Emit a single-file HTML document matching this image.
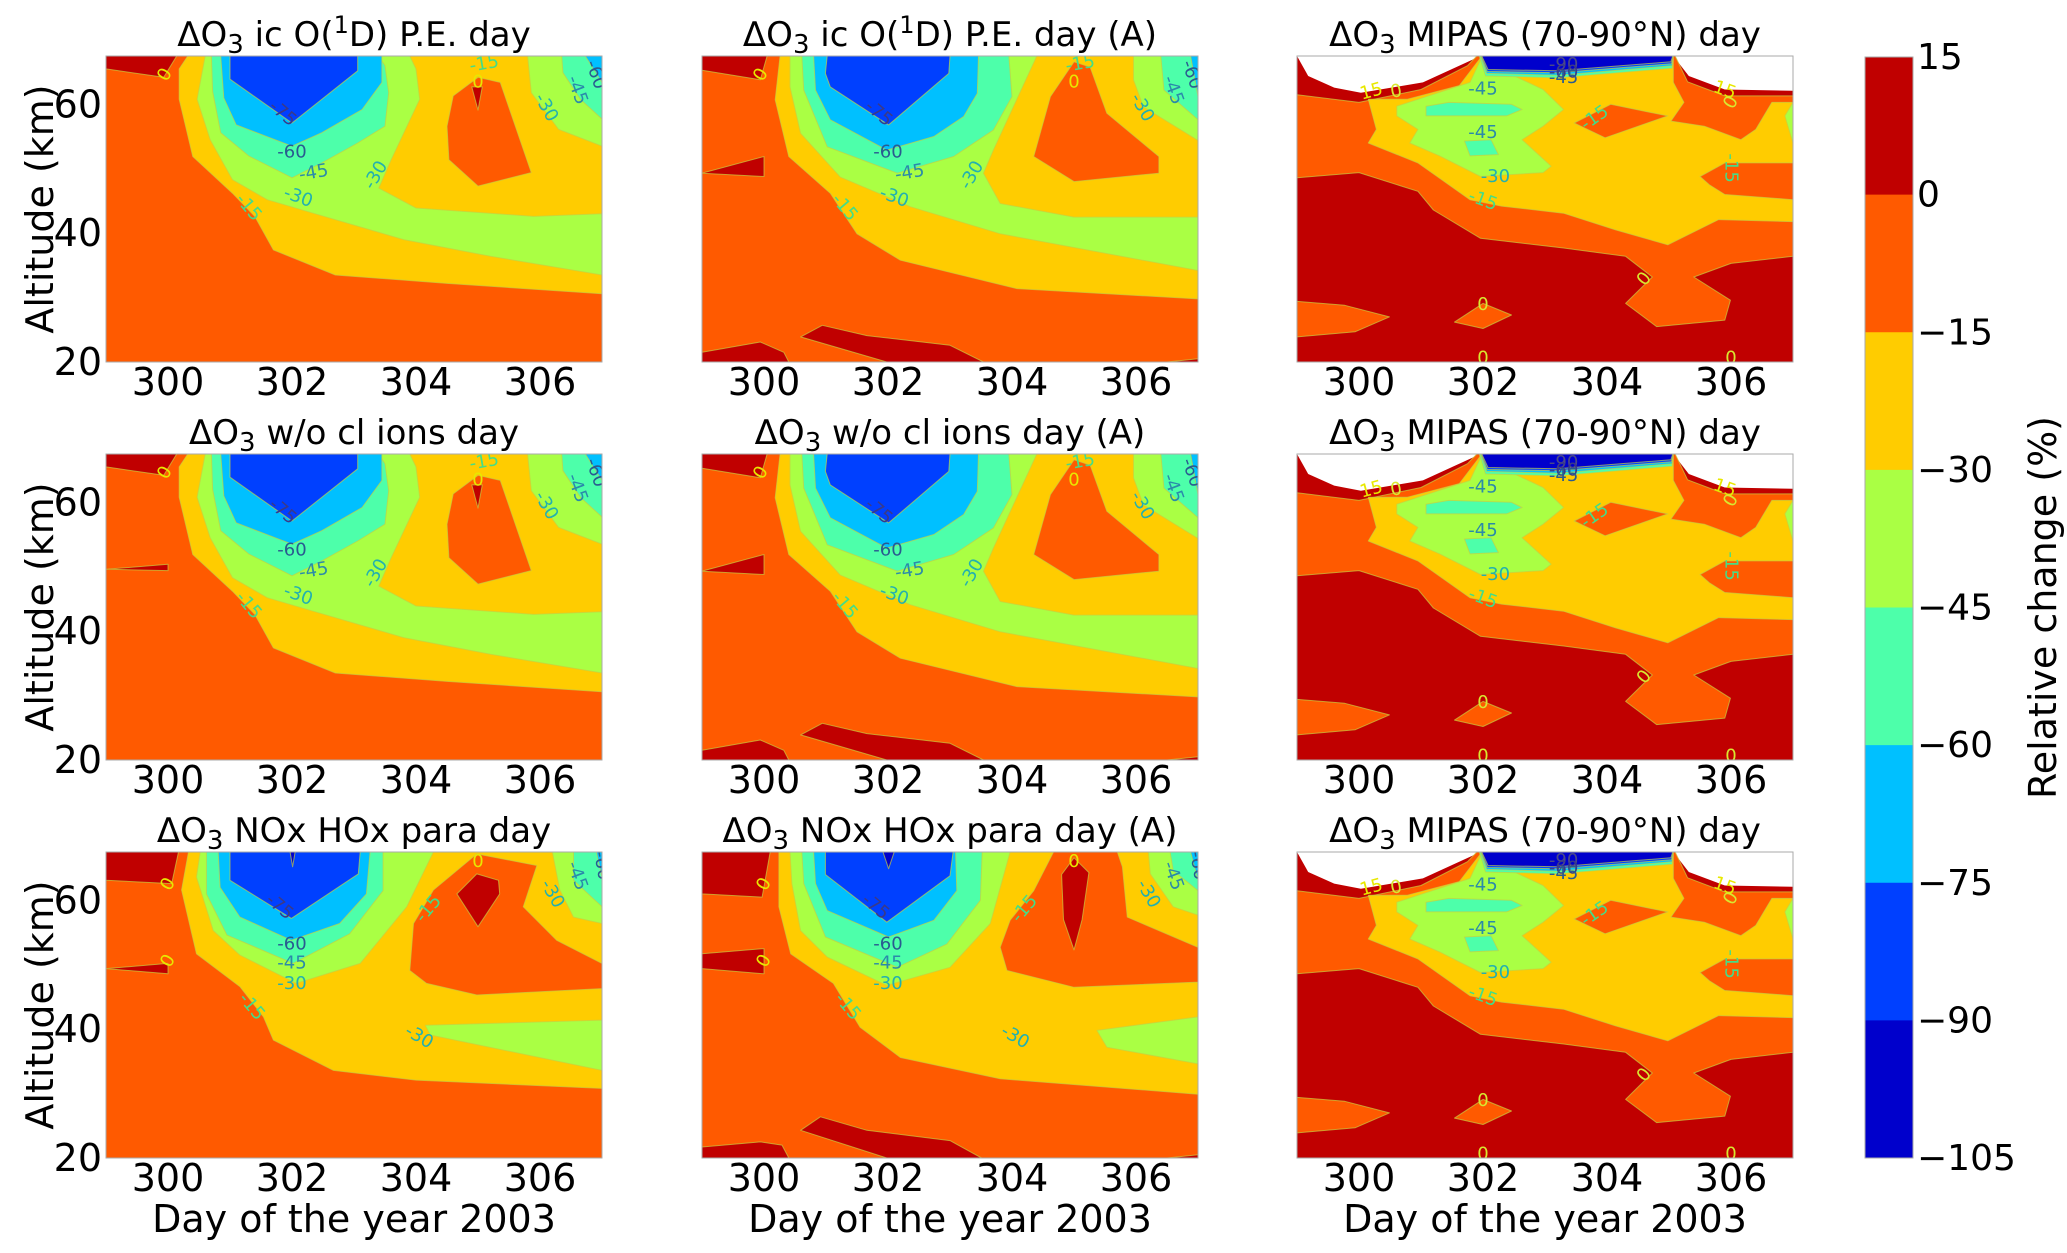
<!DOCTYPE html>
<html><head><meta charset="utf-8">
<style>
html,body{margin:0;padding:0;background:#fff;}
svg{display:block;font-family:"DejaVu Sans","Liberation Sans",sans-serif;}
</style></head>
<body>
<svg id="fig" xmlns="http://www.w3.org/2000/svg" width="2067" height="1253" viewBox="0 0 2067 1253"></svg>
<script>
// ---------- shared scales / ticks ----------
const xDomain = [299, 307];
const yDomain = [20, 67.5];
const xTicks = [300, 302, 304, 306];
const yTicks = [20, 40, 60];
const cbLevels = [15, 0, -15, -30, -45, -60, -75, -90, -105];
const bandColors = ['#c00000','#ff5a00','#ffcc00','#aaff44','#4dffaa','#00c0ff','#0040ff','#0000cc'];
const labelColors = ['#e8e800','#d8e830','#44dd88','#22b0b0','#2a8aaa','#2a5a90','#3a3a88','#4a4a88'];

// ---------- model "ic O(1D) P.E." (row1/row2 col1) ----------
const m1_redTop = [[299,67.5],[300.14,67.5],[299.93,64.2],[299,65.5]];
const m1_yellow = [[300.32,67.5],[300.18,65.5],[300.18,60.8],[300.4,51.9],[301.04,46.2],[301.4,42.6],[301.7,37.4],[302.7,33.5],[304.5,32.2],[307,30.6],[307,67.5]];
const m1_green = [[300.6,67.5],[300.47,60.8],[300.68,54.5],[301.04,48.3],[301.6,45.2],[302.34,43.1],[303.8,39],[305.2,36.4],[307,33.5],[307,43],[305.9,42.6],[304,43.9],[303.4,47],[303.6,51.4],[304.06,60.8],[304,65.5],[303.9,67.5]];
const m1_greenTR = [[305.8,67.5],[305.86,61.8],[306.3,56.1],[307,53.5],[307,67.5]];
const m1_aqua = [[300.7,67.5],[300.72,62],[300.85,55.6],[301.3,52],[302,48.6],[302.48,50.9],[303.06,54],[303.5,56.6],[303.56,61.8],[303.5,66],[303.4,67.5]];
const m1_aquaTR = [[306.35,67.5],[306.37,64.9],[306.65,60.8],[307,57.7],[307,67.5]];
const m1_blue = [[300.85,67.5],[300.9,61],[301.1,56.8],[302,53.5],[302.48,55.6],[303.13,59.2],[303.45,63.4],[303.45,67.5]];
const m1_blueTR = [[306.73,67.5],[307,63.4],[307,67.5]];
const m1_dblue = [[301,67.5],[301,63.9],[302,57.1],[303.06,65.2],[303.06,67.5]];
const m1_blob = [[304.6,61.3],[305,64.2],[305.36,63.4],[305.86,49.4],[305,47.3],[304.53,51.4],[304.5,56.6]];
const m1_blobRed = [[304.9,62.7],[305.07,62.7],[305,59.1]];
const m1_wedge = [[299,49.6],[300,50.4],[300,49.4]];

// ---------- model "(A)" (row1/row2 col2) ----------
const m2_redTop = [[299,67.5],[300.05,67.5],[299.94,63.8],[299,65.3]];
const m2_wedge = [[299,49.3],[300,51.9],[300,48.8]];
const m2_redBL = [[299,20],[299,21.5],[299.94,23.1],[300.32,21.5],[300.4,20]];
const m2_redBar = [[300.59,23.9],[300.94,25.7],[301.66,24.1],[303,22.6],[303.54,20],[301.98,20]];
const m2_redBR = [[306.5,20],[307,20.5],[307,20]];
const m2_yellow = [[300.26,67.5],[300.18,60.7],[300.4,51.9],[301.07,46.2],[301.5,39.9],[302.2,35.8],[304.08,31.4],[307,29.8],[307,67.5]];
const m2_green = [[300.42,67.5],[300.42,62.7],[300.59,55.5],[301.23,48.7],[302.36,44.1],[303.81,39.9],[307,34.2],[307,42.5],[305,42.5],[303.81,44.6],[303.54,49.3],[303.7,52.9],[304.4,67.5]];
const m2_greenTR = [[305.96,67.5],[305.96,63.8],[306.12,59.6],[307,54.4],[307,67.5]];
const m2_aqua = [[300.61,67.5],[300.64,62.2],[301.02,53.4],[302.15,49.3],[303.06,51.9],[303.7,56],[304,61.2],[303.95,67.5]];
const m2_aquaTR = [[306.4,67.5],[306.45,62.2],[307,57.6],[307,67.5]];
const m2_blue = [[300.8,67.5],[300.83,62.2],[301.07,57.6],[301.98,52.9],[302.74,55],[303.22,58.1],[303.44,61.7],[303.46,67.5]];
const m2_blueTR = [[306.88,67.5],[307,61.2],[307,67.5]];
const m2_dblue = [[301.02,67.5],[300.99,64.8],[301.07,62.7],[302.01,56.8],[302.98,64.8],[303,67.5]];
const m2_blob = [[305,66.6],[305.26,65.8],[305.53,58.6],[306.37,51.9],[306.37,49.3],[305,48],[304.35,51.9],[304.62,61.2]];

// ---------- model "NOx HOx para" (row3 col1) ----------
const m3_redTop = [[299,67.5],[300.17,67.5],[300.06,62.6],[299,63.1]];
const m3_wedge = [[299,49.4],[300,50.2],[300,48.6]];
const m3_yellow = [[300.33,67.5],[300.22,61.6],[300.46,51.7],[301.16,46.6],[301.54,41.9],[301.7,38.3],[302.67,33.6],[304,32.1],[307,30.8],[307,67.5]];
const m3_green = [[300.52,67.5],[300.46,63.6],[300.73,55.3],[301.16,51.5],[302.07,47.1],[303.1,50.2],[303.85,59],[304.28,67.5]];
const m3_greenTR = [[306.2,67.5],[306.32,61.6],[306.54,57.4],[307,56.4],[307,67.5]];
const m3_blob = [[304.98,67.2],[305.95,65.4],[305.73,59],[306.27,53.8],[307,50.2],[307,46.3],[304.98,45.3],[304.17,47.1],[303.9,49.1],[303.96,56.4],[304.28,61.6]];
const m3_blobRed = [[304.66,61],[304.98,64.1],[305.33,63.1],[305.35,61],[305,55.9]];
const m3_greenWedge = [[304.15,40.6],[307,41.4],[307,33.6],[304.23,39.1]];
const m3_aqua = [[300.62,67.5],[300.62,61],[300.95,54.6],[302.02,50.2],[302.93,54.8],[303.47,61.5],[303.47,67.5]];
const m3_aquaTR = [[306.54,67.5],[306.54,63.1],[307,59],[307,67.5]];
const m3_blue = [[300.81,67.5],[300.84,62],[301.16,57.4],[301.99,53.8],[302.77,56.4],[303.2,61],[303.26,67.5]];
const m3_blueTR = [[306.91,67.5],[307,63.6],[307,67.5]];
const m3_dblue = [[301,67.5],[301,63.1],[301.99,57.2],[303.07,64.1],[303.1,67.5]];
const m3_sliver = [[301.97,67.5],[302.05,67.5],[302.01,65.2]];

// ---------- model "NOx HOx para (A)" (row3 col2) ----------
const m4_redTop = [[299,67.5],[300.1,67.5],[299.97,60.5],[299,61]];
const m4_wedge = [[299,51.7],[300,52.5],[300,48.6],[299,49.4]];
const m4_redBL = [[299,20],[299,21.7],[299.94,22.5],[300.29,22],[300.4,20]];
const m4_redBar = [[300.59,24.3],[300.91,26.4],[301.66,24.3],[303,22.7],[303.51,20],[301.98,20]];
const m4_yellow = [[300.24,67.5],[300.24,59],[300.43,51.7],[301.12,47.1],[301.55,40.3],[302.2,35.6],[303.81,32.3],[307,29.9],[307,67.5]];
const m4_green = [[300.42,67.5],[300.45,62.6],[300.59,55.3],[301.02,51.2],[301.98,46.8],[303,49.6],[303.65,56.4],[303.97,67.5]];
const m4_greenTR = [[306.2,67.5],[306.23,64.1],[306.6,59],[307,57.7],[307,67.5]];
const m4_blob = [[304.67,67.5],[305.7,67.5],[305.78,65.2],[305.86,57.4],[307,52.7],[307,47.3],[305,46.5],[303.92,49.1],[303.81,52.7],[303.97,56.9],[304.35,61.5]];
const m4_blobRed = [[304.8,64],[305,66.6],[305.24,64.3],[305.13,57],[305,52.3],[304.83,57]];
const m4_greenWedge = [[305.37,39.8],[307,41.9],[307,34.6],[305.53,37.2]];
const m4_aqua = [[300.61,67.5],[300.64,62.6],[300.99,54.3],[302.15,49.6],[302.95,53.2],[303.49,60],[303.52,67.5]];
const m4_aquaTR = [[306.55,67.5],[306.6,64.6],[307,61.5],[307,67.5]];
const m4_blue = [[300.8,67.5],[300.83,62.6],[301.02,58.4],[302.01,54.3],[302.74,56.9],[303.11,61.5],[303.09,67.5]];
const m4_blueTR = [[306.88,67.5],[307,63.1],[307,67.5]];
const m4_dblue = [[300.99,67.5],[300.99,64],[301.98,56.6],[303,63.8],[303.05,67.5]];
const m4_sliver = [[301.92,67.5],[302.1,67.5],[302.01,64.9]];

// ---------- MIPAS ----------
const mp_whiteL = [[299,67.5],[299.18,64.4],[299.6,62.6],[300.03,61.8],[301.03,63.4],[301.96,67.5]];
const mp_whiteR = [[305.07,67.5],[305.32,64.4],[305.9,62.3],[307,62.1],[307,67.5]];
const mp_orange = [[299,61.5],[300,60.3],[301.0,62.3],[301.75,66],[301.9,67.5],[305.1,67.5],[305.3,63.5],[305.9,61.3],[307,61.3],[307,36.4],[306,35.3],[305.4,33.2],[305.99,29.6],[305.9,26.5],[304.8,25.5],[304.3,29.1],[304.73,33.2],[304.3,36.4],[303.3,37.7],[301.96,39.2],[301.2,43.6],[300.95,46.5],[300,49.4],[299,48.6]];
const mp_orangeL = [[299,29.4],[299.77,28.8],[300.49,27],[299.94,24.7],[299,23.9]];
const mp_orangeC = [[301.54,26.2],[302,29.1],[302.46,27.3],[302,25.2]];
const mp_yellow = [[300.15,60.8],[300.28,56.1],[300.15,54],[300.95,50.9],[301.79,45.2],[302.3,44.2],[303.3,43.1],[304.14,40.5],[304.98,38.2],[305.8,42.1],[307,41.8],[307,60.3],[306.66,60.3],[306.4,56.1],[306.16,54.5],[305.57,56.6],[305.03,57.4],[305.24,60.3],[305.07,63.4],[305.07,67.2],[301.96,67.2],[301.62,62.9],[300.78,60.8]];
const mp_orangeI1 = [[303.47,57.1],[304.06,60],[304.98,58.2],[303.97,54.8]];
const mp_orangeI2 = [[305.5,48.8],[305.9,50.9],[307,50.9],[307,45.2],[305.9,46],[305.65,47.5]];
const mp_green = [[300.61,59.7],[301.12,61.3],[301.79,63.4],[301.96,66.9],[302.97,62.3],[303.3,59.2],[302.97,56.6],[302.63,54.5],[303.1,50.4],[302.97,49.4],[301.96,48.8],[301.3,52],[300.82,54],[300.95,56.1],[300.61,58.2]];
const mp_greenR = [[307,60.3],[306.87,58.2],[307,54]];
const mp_aqua1 = [[301.08,59.7],[301.45,60.3],[302.46,60],[302.63,59.2],[302.38,58.2],[301.08,58.2]];
const mp_aqua2 = [[301.7,54.3],[302.13,54.5],[302.25,52.2],[301.79,52]];
const mp_topAqua = [[301.94,67.5],[302.04,64.4],[303.2,64.1],[305.05,65.6],[305.07,67.5]];
const mp_topLblue = [[301.96,67.5],[302.06,64.8],[303.2,64.5],[305.05,66.0],[305.07,67.5]];
const mp_topBlue = [[301.97,67.5],[302.07,65.1],[303.2,64.9],[305.04,66.3],[305.07,67.5]];
const mp_topDblue = [[301.98,67.5],[302.08,65.4],[303.2,65.2],[305.03,66.6],[305.06,67.5]];

// ---------- layout ----------
const colX = [106, 702, 1297];
const rowY = [56, 454, 852];
const plotW = 496, plotH = 306;

const NS = 'http://www.w3.org/2000/svg';
const svg = document.getElementById('fig');
function mk(tag, attrs, parent){
  const e = document.createElementNS(NS, tag);
  for (const k in attrs) e.setAttribute(k, attrs[k]);
  (parent||svg).appendChild(e);
  return e;
}

const model1 = [[0,m1_redTop],[2,m1_yellow],[3,m1_green],[3,m1_greenTR],[4,m1_aqua],[4,m1_aquaTR],[5,m1_blue],[5,m1_blueTR],[6,m1_dblue],[1,m1_blob],[0,m1_blobRed]];
const model1b = model1.concat([[0,m1_wedge]]);
const model2 = [[0,m2_redTop],[0,m2_wedge],[0,m2_redBL],[0,m2_redBar],[0,m2_redBR],[2,m2_yellow],[3,m2_green],[3,m2_greenTR],[4,m2_aqua],[4,m2_aquaTR],[5,m2_blue],[5,m2_blueTR],[6,m2_dblue],[1,m2_blob]];
const model3 = [[0,m3_redTop],[0,m3_wedge],[2,m3_yellow],[3,m3_green],[3,m3_greenTR],[1,m3_blob],[0,m3_blobRed],[3,m3_greenWedge],[4,m3_aqua],[4,m3_aquaTR],[5,m3_blue],[5,m3_blueTR],[6,m3_dblue],[7,m3_sliver]];
const model4 = [[0,m4_redTop],[0,m4_wedge],[0,m4_redBL],[0,m4_redBar],[0,m2_redBR],[2,m4_yellow],[3,m4_green],[3,m4_greenTR],[1,m4_blob],[0,m4_blobRed],[3,m4_greenWedge],[4,m4_aqua],[4,m4_aquaTR],[5,m4_blue],[5,m4_blueTR],[6,m4_dblue],[7,m4_sliver]];
const mipas = [[-1,mp_whiteL],[-1,mp_whiteR],[1,mp_orange],[1,mp_orangeL],[1,mp_orangeC],[2,mp_yellow],[1,mp_orangeI1],[1,mp_orangeI2],[3,mp_green],[3,mp_greenR],[4,mp_aqua1],[4,mp_aqua2],[4,mp_topAqua],[5,mp_topLblue],[6,mp_topBlue],[7,mp_topDblue]];

const labelsM12 = [[299.95,64.6,'0',0,-60],[301.85,58.6,'-75',6,40],[302.0,52.6,'-60',5,0],[302.35,49.4,'-45',4,-10],[302.1,45.6,'-30',3,20],[301.3,44.0,'-15',2,50],[303.35,49.0,'-30',3,-60],[305.1,66.3,'-15',2,-10],[306.1,59.5,'-30',3,60],[306.6,62.2,'-45',4,70],[306.9,64.6,'-60',5,70],[305.0,63.5,'0',0,0]];
const labelsM34 = [[300.0,62.5,'0',0,-60],[300.0,50.6,'0',0,-60],[301.8,59.0,'-75',6,40],[302.0,53.2,'-60',5,0],[302.0,50.3,'-45',4,0],[302.0,47.1,'-30',3,0],[301.35,43.5,'-15',2,50],[304.2,58.7,'-15',2,-50],[304.05,38.8,'-30',3,30],[306.2,61.0,'-30',3,60],[306.6,63.8,'-45',4,70],[307.0,65.4,'-60',5,80],[305.0,66.0,'0',0,0]];
const labelsMP = [[300.2,62.0,'15',0,-15],[300.6,62.0,'0',1,-10],[302.0,62.4,'-45',4,0],[302.0,55.6,'-45',4,0],[302.2,48.8,'-30',3,0],[302.0,45.1,'-15',2,20],[303.8,57.9,'-15',2,-35],[305.9,62.2,'15',0,20],[306.0,60.3,'0',1,-60],[306.0,50.1,'-15',2,90],[304.6,32.9,'0',1,-50],[302.0,28.9,'0',1,0],[302.0,20.6,'0',1,0],[306.0,20.6,'0',1,0],[303.3,66.2,'-90',7,0],[303.3,65.0,'-60',6,0],[303.3,64.2,'-45',5,0]];

const panels = [
  {r:0,c:0,title:['ic O(','1','D) P.E. day'],regs:model1,labs:labelsM12},
  {r:0,c:1,title:['ic O(','1','D) P.E. day (A)'],regs:model2,labs:labelsM12},
  {r:0,c:2,title:['MIPAS (70-90°N) day'],regs:mipas,labs:labelsMP,bg:0},
  {r:1,c:0,title:['w/o cl ions day'],regs:model1b,labs:labelsM12},
  {r:1,c:1,title:['w/o cl ions day (A)'],regs:model2,labs:labelsM12},
  {r:1,c:2,title:['MIPAS (70-90°N) day'],regs:mipas,labs:labelsMP,bg:0},
  {r:2,c:0,title:['NOx HOx para day'],regs:model3,labs:labelsM34},
  {r:2,c:1,title:['NOx HOx para day (A)'],regs:model4,labs:labelsM34},
  {r:2,c:2,title:['MIPAS (70-90°N) day'],regs:mipas,labs:labelsMP,bg:0}
];

panels.forEach((p,i)=>{
  const x0 = colX[p.c], y0 = rowY[p.r];
  const sx = d => x0 + (d - xDomain[0]) / (xDomain[1]-xDomain[0]) * plotW;
  const sy = a => y0 + plotH - (a - yDomain[0]) / (yDomain[1]-yDomain[0]) * plotH;
  const g = mk('g', {});
  
  
  const cid = 'clip' + i;
  const cp = mk('clipPath', {id:cid}, g);
  mk('rect', {x:x0, y:y0, width:plotW, height:plotH}, cp);
  const bgIdx = (p.bg === undefined) ? 1 : p.bg;
  const bg = mk('rect', {x:x0, y:y0, width:plotW, height:plotH, fill:bandColors[bgIdx]}, g);
  
  
  const cg = mk('g', {'clip-path':'url(#'+cid+')'}, g);
  p.regs.forEach(([b, pts])=>{
    const d = pts.map((q,k)=>(k?'L':'M')+sx(q[0]).toFixed(1)+','+sy(q[1]).toFixed(1)).join('')+'Z';
    const fill = b < 0 ? '#ffffff' : bandColors[b];
    const stroke = b < 0 ? '#ffffff' : '#c8d040';
    const path = mk('path', {d:d, fill:fill, stroke:stroke, 'stroke-width':b<0?0:1, 'stroke-opacity':0.7, 'stroke-linejoin':'round'}, cg);
    
    
  });
  p.labs.forEach(([d,a,t,ci,rot])=>{
    const tx = sx(d), ty = sy(a);
    const lt = mk('text', {x:tx, y:ty, 'font-size':18, fill:labelColors[ci], 'text-anchor':'middle', 'dominant-baseline':'central', transform:'rotate('+rot+' '+tx+' '+ty+')'}, cg);
    lt.textContent = t;
    
    
  });
  const fr = mk('rect', {x:x0, y:y0, width:plotW, height:plotH, fill:'none', stroke:'#aaaaaa', 'stroke-width':1}, g);
  
  
  const tt = mk('text', {x:x0+plotW/2, y:y0-10, 'font-size':34, 'text-anchor':'middle', fill:'#000'}, g);
  
  
  let h = 'ΔO<tspan dy="7" font-size="26">3</tspan><tspan dy="-7"> ' + p.title[0] + '</tspan>';
  if (p.title.length > 1) h += '<tspan dy="-13" font-size="24">' + p.title[1] + '</tspan><tspan dy="13">' + p.title[2] + '</tspan>';
  tt.innerHTML = h;
  xTicks.forEach(v=>{
    const xt = mk('text', {x:sx(v), y:y0+plotH+33, 'font-size':38, 'text-anchor':'middle', fill:'#000'}, g);
    xt.textContent = v;
    
    
  });
  if (p.c === 0) {
    yTicks.forEach(v=>{
      const yt = mk('text', {x:x0-4, y:sy(v)+13, 'font-size':38, 'text-anchor':'end', fill:'#000'}, g);
      yt.textContent = v;
      
      
    });
    const yl = mk('text', {x:0, y:0, 'font-size':38, 'text-anchor':'middle', fill:'#000', transform:'translate(40,'+(y0+plotH/2)+') rotate(-90)', 'dominant-baseline':'central'}, g);
    yl.textContent = 'Altitude (km)';
    
    
  }
  if (p.r === 2) {
    const xl = mk('text', {x:x0+plotW/2, y:1232, 'font-size':38, 'text-anchor':'middle', fill:'#000'}, g);
    xl.textContent = 'Day of the year 2003';
    
    
  }
});

// ---------- colorbar ----------
const cbX = 1865, cbW = 48, cbTop = 57, cbBot = 1158;
const cg2 = mk('g', {});


const cbS = v => cbTop + (cbLevels[0] - v) / (cbLevels[0] - cbLevels[cbLevels.length-1]) * (cbBot - cbTop);
bandColors.forEach((c,k)=>{
  const r = mk('rect', {x:cbX, y:cbS(cbLevels[k]), width:cbW, height:cbS(cbLevels[k+1])-cbS(cbLevels[k])+0.5, fill:c}, cg2);
  
  
});
const cbf = mk('rect', {x:cbX, y:cbTop, width:cbW, height:cbBot-cbTop, fill:'none', stroke:'#aaaaaa', 'stroke-width':1}, cg2);


cbLevels.forEach(v=>{
  const t = mk('text', {x:cbX+cbW+4, y:cbS(v)+12, 'font-size':36, fill:'#000'}, cg2);
  t.textContent = v < 0 ? '\u2212' + (-v) : String(v);
  
  
});
const cbl = mk('text', {x:0, y:0, 'font-size':38, 'text-anchor':'middle', 'dominant-baseline':'central', fill:'#000', transform:'translate(2043,'+((cbTop+cbBot)/2)+') rotate(-90)'}, cg2);
cbl.textContent = 'Relative change (%)';


</script>
</body></html>
